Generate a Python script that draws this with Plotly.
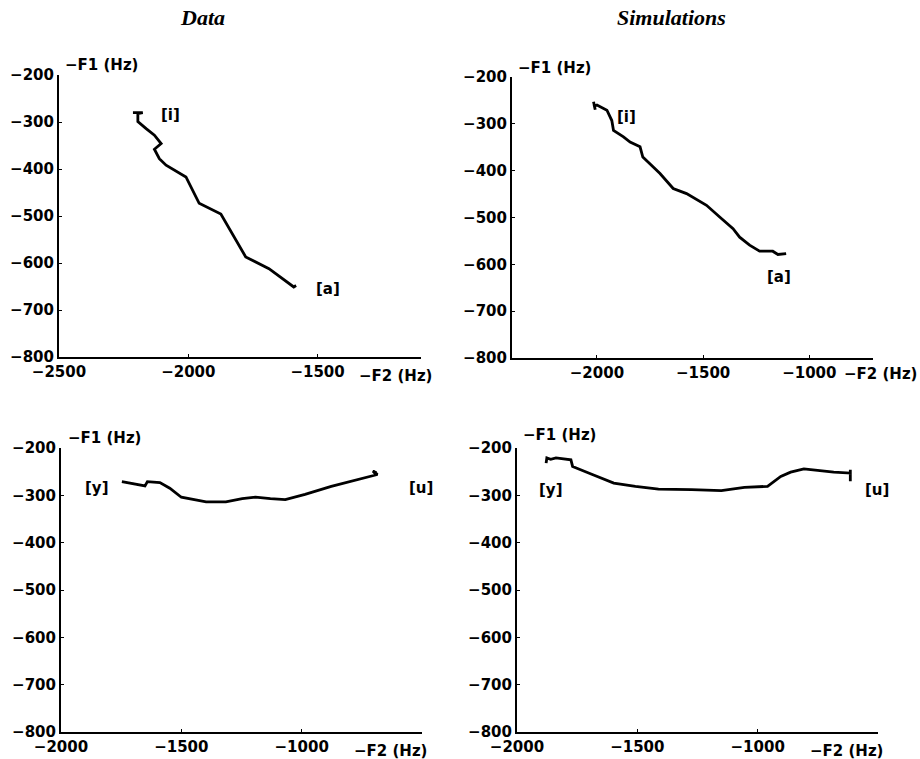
import plotly.graph_objects as go

# ---------------- data ----------------
data_ia_f2 = [-2214, -2176, -2195, -2195, -2163, -2131, -2105, -2131, -2112, -2086,
              -2009, -1958, -1874, -1778, -1688, -1592, -1583]
data_ia_f1 = [-280, -280, -282, -299, -314, -328, -346, -358, -378, -392,
              -417, -473, -496, -587, -612, -651, -648]

sim_ia_f2 = [-2016, -2008, -2012, -2000, -1953, -1930, -1922, -1875, -1844, -1797,
             -1784, -1703, -1641, -1578, -1484, -1422, -1359, -1328, -1281, -1234,
             -1172, -1148, -1109]
sim_ia_f1 = [-253, -270, -262, -260, -271, -293, -314, -328, -339, -349,
             -371, -406, -438, -449, -474, -499, -524, -542, -559, -572,
             -572, -579, -577]

data_yu_f2 = [-1747, -1685, -1651, -1641, -1589, -1548, -1500, -1397, -1315, -1247,
              -1192, -1130, -1068, -986, -877, -685, -705, -690, -700]
data_yu_f1 = [-271, -276, -280, -271, -273, -285, -304, -314, -314, -307,
              -304, -307, -309, -298, -281, -256, -249, -252, -256]

sim_yu_f2 = [-1879, -1876, -1860, -1838, -1776, -1769, -1687, -1598, -1508, -1412,
             -1275, -1151, -1055, -959, -904, -863, -808, -753, -684, -615,
             -615, -615]
sim_yu_f1 = [-232, -221, -224, -221, -225, -239, -256, -274, -281, -287,
             -288, -290, -283, -281, -260, -251, -244, -247, -251, -253,
             -246, -270]

y_ticks = [-800, -700, -600, -500, -400, -300, -200]
x_ticks_p1 = [-2500, -2000, -1500]
x_ticks_other = [-2000, -1500, -1000]

column_titles = ["Data", "Simulations"]
vowel_labels = {
    1: [("[i]", -2067, -285), ("[a]", -1458, -655)],
    2: [("[i]", -1859, -285), ("[a]", -1145, -626)],
    3: [("[y]", -1849, -285), ("[u]", -505, -285)],
    4: [("[y]", -1859, -288), ("[u]", -505, -288)],
}

# ---------------- figure ----------------
W, H = 920, 759
fig = go.Figure()

series = [(data_ia_f2, data_ia_f1), (sim_ia_f2, sim_ia_f1),
          (data_yu_f2, data_yu_f1), (sim_yu_f2, sim_yu_f1)]
for i, (xs, ys) in enumerate(series, start=1):
    fig.add_trace(go.Scatter(
        x=xs, y=ys, mode="lines",
        line=dict(color="black", width=2.8),
        xaxis=f"x{i if i > 1 else ''}", yaxis=f"y{i if i > 1 else ''}",
        showlegend=False, hoverinfo="skip"))

# panel boxes in pixels: (left, right, top, bottom)
panels = {
    1: (59, 421, 75, 357),
    2: (512, 873, 77, 358),
    3: (61, 422, 448, 732),
    4: (517, 878, 448, 732),
}
x_ranges = {1: [-2500, -1100], 2: [-2400, -700], 3: [-2000, -500], 4: [-2000, -500]}

SANS = "DejaVu Sans, Liberation Sans, Arial, sans-serif"
tickfont = dict(family=SANS, size=15, color="black", weight="bold")

layout = dict(width=W, height=H, autosize=False, template="none",
              margin=dict(l=0, r=0, t=0, b=0, autoexpand=False),
              paper_bgcolor="white", plot_bgcolor="white",
              showlegend=False)

for i, (l, r, t, b) in panels.items():
    sfx = "" if i == 1 else str(i)
    layout[f"xaxis{sfx}"] = dict(
        domain=[l / W, r / W], range=x_ranges[i], anchor=f"y{sfx}",
        tickvals=x_ticks_p1 if i == 1 else x_ticks_other,
        showline=True, linecolor="black", linewidth=2, mirror=False,
        showgrid=False, zeroline=False, ticks="inside", ticklen=3,
        tickcolor="black", tickfont=tickfont, automargin=False)
    layout[f"yaxis{sfx}"] = dict(
        domain=[1 - b / H, 1 - t / H], range=[-800, -200], anchor=f"x{sfx}",
        tickvals=y_ticks,
        showline=True, linecolor="black", linewidth=2, mirror=False,
        showgrid=False, zeroline=False, ticks="inside", ticklen=3,
        tickcolor="black", tickfont=tickfont, automargin=False)

fig.update_layout(**layout)

annotations = []
# column titles
for txt, cx in zip(column_titles, [202, 671]):
    annotations.append(dict(
        text=txt, x=cx / W, y=1 - 18 / H, xref="paper", yref="paper",
        showarrow=False, xanchor="center", yanchor="middle",
        font=dict(family="Liberation Serif, Times New Roman, serif", size=22,
                  color="black", weight="bold", style="italic")))

labfont = dict(family=SANS, size=15, color="black", weight="bold")
# axis titles (pixel positions: F1 left/center-y, F2 center-x/center-y)
f1_pos = {1: (63, 65), 2: (516, 68), 3: (66, 438), 4: (521, 435)}
f2_pos = {1: (395, 376), 2: (880, 374), 3: (390, 751), 4: (846, 751)}
for i in panels:
    fx, fy = f1_pos[i]
    annotations.append(dict(text="\u2212F1 (Hz)", x=fx / W, y=1 - fy / H,
                            xref="paper", yref="paper", showarrow=False,
                            xanchor="left", yanchor="middle", font=labfont))
    gx, gy = f2_pos[i]
    annotations.append(dict(text="\u2212F2 (Hz)", x=gx / W, y=1 - gy / H,
                            xref="paper", yref="paper", showarrow=False,
                            xanchor="center", yanchor="middle", font=labfont))
    sfx = "" if i == 1 else str(i)
    for txt, vx, vy in vowel_labels[i]:
        annotations.append(dict(text=txt, x=vx, y=vy, xref=f"x{sfx}",
                                yref=f"y{sfx}", showarrow=False,
                                xanchor="center", yanchor="middle",
                                font=labfont))

fig.update_layout(annotations=annotations)
fig.write_html(
    "out.html",
    config={"displayModeBar": False},
    post_script="document.body.style.margin='0';document.body.style.overflow='hidden';",
)
